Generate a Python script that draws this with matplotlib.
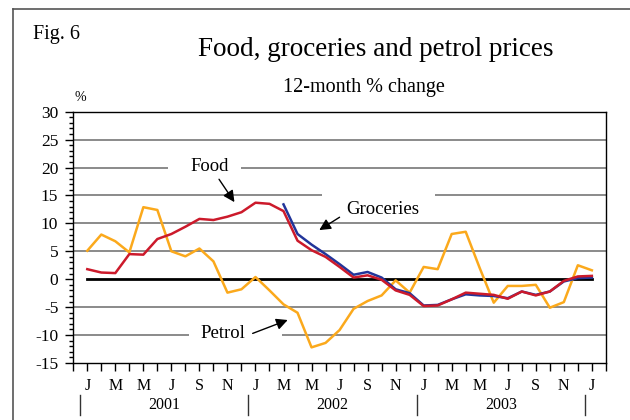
import numpy as np
import matplotlib
matplotlib.use("Agg")
import matplotlib.pyplot as plt
from matplotlib.lines import Line2D
from matplotlib.patches import Rectangle

plt.rcParams["font.family"] = ["Liberation Serif", "DejaVu Serif"]
plt.rcParams["axes.unicode_minus"] = False

# months counted from Jan 2001 (0) to Jan 2004 (36)
month_labels = ["J", "M", "M", "J", "S", "N"]
years = ["2001", "2002", "2003"]

food = [1.8, 1.2, 1.1, 4.5, 4.4, 7.2, 8.1, 9.4, 10.8, 10.6, 11.2, 12.0,
        13.7, 13.5, 12.2, 6.9, 5.2, 4.0, 2.2, 0.3, 0.7, -0.1, -2.0, -2.8,
        -4.8, -4.7, -3.6, -2.4, -2.6, -2.8, -3.5, -2.2, -2.9, -2.2, -0.3, 0.5, 0.6]

# groceries series starts in Mar 2002
groceries_start = 14
groceries = [13.4, 8.1, 6.2, 4.5, 2.7, 0.8, 1.3, 0.3, -1.8, -2.5,
             -4.7, -4.6, -3.6, -2.7, -2.9, -3.0, -3.4, -2.2, -2.8, -2.2, -0.4, 0.2, 0.3]

petrol = [5.1, 8.0, 6.8, 4.8, 12.9, 12.4, 5.0, 4.1, 5.5, 3.2, -2.4, -1.8,
          0.4, -2.0, -4.5, -6.0, -12.2, -11.4, -9.1, -5.3, -3.9, -2.9, -0.2, -2.4,
          2.2, 1.8, 8.1, 8.5, 2.0, -4.2, -1.2, -1.2, -1.0, -5.1, -4.1, 2.5, 1.6]

red = "#CC1A2B"
blue = "#22359A"
orange = "#FBA91C"
grid_gray = "#777777"

fig = plt.figure(figsize=(6.3, 4.2), dpi=100)
ax = fig.add_axes([0.1163, 0.1357, 0.8454, 0.5984])

m = np.arange(len(food))
mg = np.arange(groceries_start, groceries_start + len(groceries))

# gridlines
for v in [-10, -5, 5, 10, 15, 20, 25]:
    ax.axhline(v, color=grid_gray, lw=1.2, zorder=1)
ax.plot([m[0], m[-1]], [0, 0], color="black", lw=2.0, zorder=4)

ax.plot(m, petrol, color=orange, lw=1.8, zorder=5)
ax.plot(mg, groceries, color=blue, lw=1.8, zorder=6)
ax.plot(m, food, color=red, lw=1.8, zorder=7)

ax.set_xlim(-1, 37)
ax.set_ylim(-15, 30)

ax.set_yticks(np.arange(-15, 31, 5))
ax.set_yticks(np.arange(-15, 31, 1), minor=True)
ax.tick_params(axis="y", which="major", length=5.8, width=1, pad=5, labelsize=12.5)
ax.tick_params(axis="y", which="minor", length=3, width=1)

xt = np.arange(-1, 38)
ax.set_xticks(xt)
labs = []
for t in xt:
    if t >= 0 and t % 2 == 0 and t <= 36:
        labs.append(month_labels[(t % 12) // 2])
    else:
        labs.append("")
ax.set_xticklabels(labs)
ax.tick_params(axis="x", which="major", length=5.5, width=1, pad=5, labelsize=11.5)

for s in ax.spines.values():
    s.set_color("black")
    s.set_linewidth(1.0)

# year labels and separators
for i, yr in enumerate(years):
    ax.text(12 * i + 5.5, -0.167, yr, transform=ax.get_xaxis_transform(),
            ha="center", va="center", fontsize=11.5)
for sep in [-0.5, 11.5, 23.5, 35.5]:
    ax.add_line(Line2D([sep, sep], [-0.127, -0.207], transform=ax.get_xaxis_transform(),
                       color="#333333", lw=1, clip_on=False))

ax.text(0.0126, 1.058, "%", transform=ax.transAxes, ha="center", va="center", fontsize=10)

# white gaps in the gridlines behind the labels
for (x0, x1, yv) in [(5.76, 10.98, 20), (16.76, 24.84, 15), (7.26, 13.9, -10)]:
    ax.add_patch(Rectangle((x0, yv - 0.6), x1 - x0, 1.2, facecolor="white",
                           edgecolor="none", zorder=2))

# series labels
arrow = dict(arrowstyle="-|>", color="black", lw=1.0, mutation_scale=17, shrinkA=0, shrinkB=0)
ax.text(8.7, 20.1, "Food", ha="center", va="center", fontsize=13.5, zorder=3)
ax.annotate("", xy=(10.5, 13.8), xytext=(9.4, 17.9), arrowprops=arrow, zorder=8)
ax.text(21.1, 12.4, "Groceries", ha="center", va="center", fontsize=13.5, zorder=3)
ax.annotate("", xy=(16.55, 8.8), xytext=(18.0, 11.1), arrowprops=arrow, zorder=8)
ax.text(9.7, -9.7, "Petrol", ha="center", va="center", fontsize=13.5, zorder=3)
ax.annotate("", xy=(14.3, -7.3), xytext=(11.8, -9.7), arrowprops=arrow, zorder=8)

# titles
fig.text(376 / 630, 1 - 55.7 / 420, "Food, groceries and petrol prices", ha="center",
         va="baseline", fontsize=19.5)
fig.text(364 / 630, 1 - 91.7 / 420, "12-month % change", ha="center", va="baseline",
         fontsize=14.5)
fig.text(33 / 630, 1 - 39 / 420, "Fig. 6", ha="left", va="baseline", fontsize=14.5)

# outer frame (left and top edges)
fig.add_artist(Line2D([13 / 630, 13 / 630], [0, 1 - 9 / 420], transform=fig.transFigure,
                      color="#555555", lw=1.2))
fig.add_artist(Line2D([13 / 630, 1], [1 - 9 / 420, 1 - 9 / 420], transform=fig.transFigure,
                      color="#555555", lw=1.2))

fig.savefig("out.png", dpi=100)
